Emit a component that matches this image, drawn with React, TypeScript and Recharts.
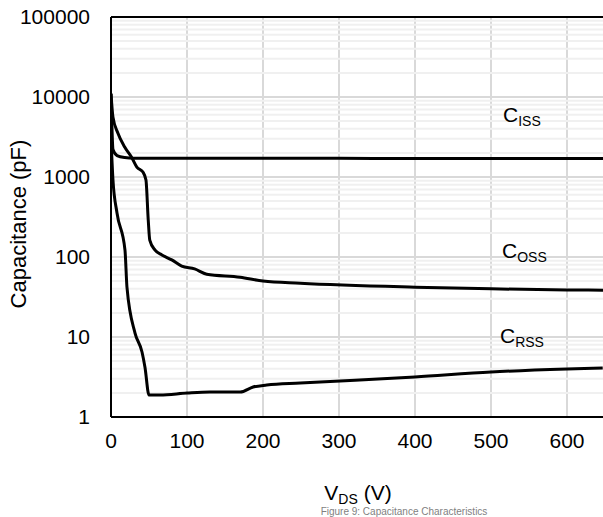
import { LineChart, Line, XAxis, YAxis, CartesianGrid, ReferenceLine } from "recharts";

// V_DS (V) vs capacitance (pF)
const cissV = [0, 1, 2.6, 8, 18, 30, 50, 100, 200, 300, 400, 500, 600, 650];
const cissC = [11000, 5000, 2200, 1850, 1750, 1720, 1720, 1720, 1720, 1710, 1700, 1700, 1700, 1700];

const cossV = [0, 2.6, 9, 18, 27.6, 34, 42, 46, 49, 51, 58, 67, 80, 93, 110, 126, 170, 200, 249, 400, 500, 600, 650];
const cossC = [11000, 5600, 3550, 2370, 1730, 1330, 1155, 917, 290, 163, 122, 106, 92, 77, 71, 61, 56, 50, 47, 42, 40, 38.7, 38.5];

const crssV = [0, 2.6, 7.9, 18.4, 21, 31.6, 40.8, 44.7, 50, 64.5, 100, 130, 170, 187, 205, 249, 400, 500, 600, 647];
const crssC = [3000, 917, 355, 122, 42, 11.2, 6.5, 4.2, 1.88, 1.88, 1.99, 2.05, 2.05, 2.37, 2.51, 2.66, 3.16, 3.65, 3.98, 4.1];

const xTicks = [0, 100, 200, 300, 400, 500, 600];
const yTicks = [1, 10, 100, 1000, 10000, 100000];

const toRows = (vs: number[], cs: number[]) => vs.map((v, i) => ({ v, c: cs[i] }));
const ciss = toRows(cissV, cissC);
const coss = toRows(cossV, cossC);
const crss = toRows(crssV, crssC);

// log minor grid lines (2..9 in each decade)
const minorY: number[] = [];
for (let d = 1; d < 100000; d *= 10) {
  for (let k = 2; k <= 9; k++) minorY.push(d * k);
}

const FONT = "'Liberation Sans', Arial, sans-serif";

export default function App() {
  return (
    <div
      style={{
        position: "absolute",
        left: 0,
        top: 0,
        width: 603,
        height: 517,
        overflow: "hidden",
        background: "#fff",
        fontFamily: FONT,
      }}
    >
      <LineChart width={606} height={517} margin={{ top: 17, right: 1, left: 0, bottom: 0 }}>
        <CartesianGrid stroke="#d9d9d9" strokeWidth={2} />
        {minorY.map((y) => (
          <ReferenceLine key={y} y={y} stroke="#f0f0f0" strokeWidth={2} />
        ))}
        <XAxis
          type="number"
          dataKey="v"
          domain={[0, 650]}
          ticks={xTicks}
          allowDataOverflow
          height={100}
          tickLine={false}
          tickMargin={10}
          axisLine={{ stroke: "#000", strokeWidth: 2 }}
          tick={{ fill: "#000", fontSize: 21, fontFamily: FONT }}
        />
        <YAxis
          type="number"
          scale="log"
          domain={[1, 100000]}
          ticks={yTicks}
          allowDataOverflow
          width={111}
          tickLine={false}
          tickMargin={15}
          axisLine={{ stroke: "#000", strokeWidth: 2 }}
          tick={{ fill: "#000", fontSize: 21, fontFamily: FONT }}
        />
        <ReferenceLine y={100000} stroke="#000" strokeWidth={2} />
        <Line data={ciss} dataKey="c" type="monotone" stroke="#000" strokeWidth={3} dot={false} isAnimationActive={false} />
        <Line data={coss} dataKey="c" type="monotone" stroke="#000" strokeWidth={3} dot={false} isAnimationActive={false} />
        <Line data={crss} dataKey="c" type="monotone" stroke="#000" strokeWidth={3} dot={false} isAnimationActive={false} />
      </LineChart>
      <svg
        width={603}
        height={517}
        style={{ position: "absolute", left: 0, top: 0, pointerEvents: "none", fontFamily: FONT }}
      >
        <text x={26} y={224} transform="rotate(-90 26 224)" textAnchor="middle" fontSize={22} fill="#000">
          Capacitance (pF)
        </text>
        <text x={358} y={500} textAnchor="middle" fontSize={21} fill="#000">
          V<tspan fontSize={14} dy={4}>DS</tspan>
          <tspan dy={-4}> (V)</tspan>
        </text>
        <text x={503} y={122} fontSize={21} fill="#000">
          C<tspan fontSize={14} dy={4}>ISS</tspan>
        </text>
        <text x={502} y={258} fontSize={21} fill="#000">
          C<tspan fontSize={14} dy={4}>OSS</tspan>
        </text>
        <text x={500} y={343} fontSize={21} fill="#000">
          C<tspan fontSize={14} dy={4}>RSS</tspan>
        </text>
        <text x={404} y={515} textAnchor="middle" fontSize={10} fill="#7f7f7f">
          Figure 9: Capacitance Characteristics
        </text>
      </svg>
    </div>
  );
}
